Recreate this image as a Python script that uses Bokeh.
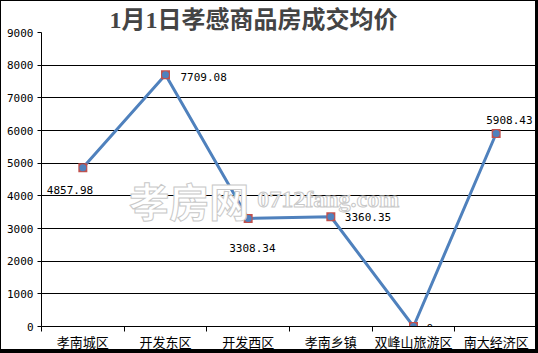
from bokeh.plotting import figure
from bokeh.models import ColumnDataSource, Range1d, FixedTicker, Label, LabelSet
from bokeh.core.properties import value
from bokeh.embed import file_html
from bokeh.resources import INLINE

# ---- data ----
title_text = "1月1日孝感商品房成交均价"
categories = ["孝南城区", "开发东区", "开发西区", "孝南乡镇", "双峰山旅游区", "南大经济区"]
prices = [4857.98, 7709.08, 3308.34, 3360.35, 0, 5908.43]
y_ticks = [0, 1000, 2000, 3000, 4000, 5000, 6000, 7000, 8000, 9000]

# label placement (pixels, styling only; positive dy = up)
label_dx = [-36, 15, -19, 14, 13, -10]
label_dy = [-22, -2, -30, 0, -1, 13]

xs = [i + 0.5 for i in range(len(categories))]
labels = [("%.2f" % v) if v != 0 else "0" for v in prices]
src = ColumnDataSource(dict(x=xs, y=prices, t=labels, dx=label_dx, dy=label_dy))

p = figure(width=538, height=353, x_range=Range1d(0, len(categories)),
           y_range=Range1d(0, 9000), output_backend="svg", toolbar_location=None,
           min_border_left=40, min_border_right=2, min_border_top=31, min_border_bottom=28)
p.styles = {"border-style": "solid", "border-color": "black", "border-width": "1px 3px 4px 1px"}
p.background_fill_color = "white"
p.border_fill_color = "white"
p.outline_line_color = None

p.title.text = title_text
p.title.text_font = "'Liberation Serif', 'Noto Sans CJK SC'"
p.title.text_font_size = "24px"
p.title.text_font_style = "bold"
p.title.align = "left"
p.title.offset = 68
p.title.standoff = 0

# axes
p.yaxis.ticker = FixedTicker(ticks=y_ticks)
p.yaxis.axis_line_color = "black"
p.yaxis.major_tick_line_color = "black"
p.yaxis.major_tick_out = 4
p.yaxis.major_tick_in = 0
p.yaxis.minor_tick_line_color = None
p.yaxis.major_label_text_font = "DejaVu Sans Mono"
p.yaxis.major_label_text_font_size = "11px"
p.yaxis.major_label_text_color = "black"
p.yaxis.major_label_standoff = 4

p.xaxis.ticker = FixedTicker(ticks=xs, minor_ticks=list(range(len(categories) + 1)))
p.xaxis.major_label_overrides = {x: c for x, c in zip(xs, categories)}
p.xaxis.axis_line_color = "black"
p.xaxis.major_tick_line_color = None
p.xaxis.major_tick_out = 0
p.xaxis.major_tick_in = 0
p.xaxis.minor_tick_line_color = "black"
p.xaxis.minor_tick_out = 5
p.xaxis.minor_tick_in = 0
p.xaxis.major_label_text_font = "Noto Sans CJK SC"
p.xaxis.major_label_text_font_size = "13px"
p.xaxis.major_label_text_color = "black"
p.xaxis.major_label_standoff = 0

p.xgrid.visible = False
p.ygrid.ticker = FixedTicker(ticks=y_ticks)
p.ygrid.grid_line_color = "black"
p.ygrid.grid_line_width = 1

# watermark
p.add_layout(Label(x=1.06, y=3860, text="孝房网", text_font="Noto Sans CJK SC",
                   text_font_size="40px", text_font_style="bold", text_color="white",
                   text_outline_color="#c8c8c8", text_baseline="middle"))
p.add_layout(Label(x=2.61, y=3900, text="0712fang.com", text_font="Liberation Serif",
                   text_font_size="24px", text_font_style="bold", text_color="white",
                   text_outline_color="#c8c8c8", text_baseline="middle"))

# series
p.line("x", "y", source=src, line_color="#4f81bd", line_width=3)
p.scatter("x", "y", source=src, marker="square", size=9, fill_color="#c0504d", line_color=None)
p.scatter("x", "y", source=src, marker="circle", size=7, fill_color="#4f81bd", line_color=None)

p.add_layout(LabelSet(x="x", y="y", text="t", source=src, x_offset="dx", y_offset="dy",
                      text_font=value("DejaVu Sans Mono"), text_font_size="11px",
                      text_color="black", text_align="left", text_baseline="middle"))

open("out.html", "w").write(file_html(p, INLINE))
